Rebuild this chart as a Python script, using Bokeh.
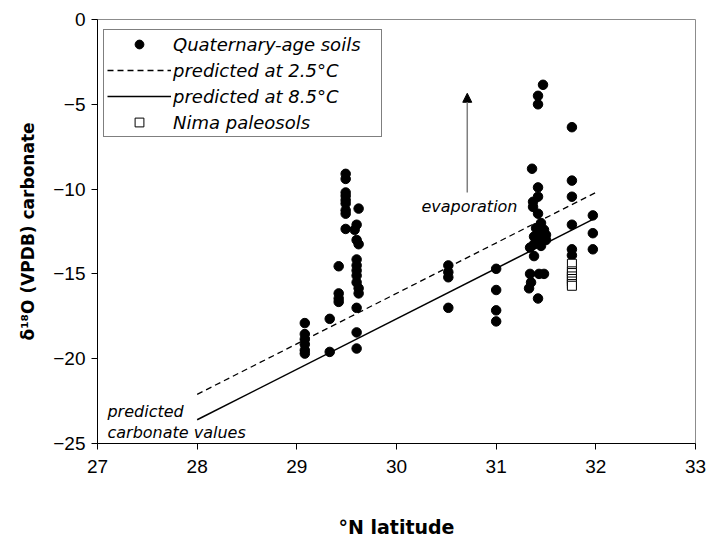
from bokeh.plotting import figure
from bokeh.models import (Range1d, FixedTicker, Legend, LegendItem, Label, Arrow,
                          NormalHead)
from bokeh.embed import file_html
from bokeh.resources import INLINE

# Quaternary-age soils: latitude (°N) and δ18O carbonate
soil_lat = [29.08, 29.08, 29.08, 29.08, 29.08, 29.08,
            29.33, 29.33,
            29.42, 29.42, 29.42, 29.42,
            29.49, 29.49, 29.49, 29.49, 29.49, 29.49, 29.49, 29.49, 29.49,
            29.62, 29.6, 29.58, 29.6, 29.62, 29.6, 29.6, 29.6, 29.6, 29.6, 29.62, 29.62, 29.6, 29.6, 29.6,
            30.52, 30.52, 30.52, 30.52,
            31.0, 31.0, 31.0, 31.0,
            31.47, 31.42, 31.42, 31.36, 31.42, 31.42, 31.37, 31.37, 31.42, 31.45, 31.4, 31.48,
            31.42, 31.5, 31.38, 31.45, 31.5, 31.38, 31.45, 31.34, 31.38, 31.34, 31.43, 31.48,
            31.35, 31.33, 31.42,
            31.76, 31.76, 31.76, 31.76, 31.76, 31.76,
            31.97, 31.97, 31.97]
soil_d18o = [-17.9, -18.55, -18.85, -19.15, -19.5, -19.7,
             -17.65, -19.6,
             -14.55, -16.15, -16.45, -16.65,
             -9.1, -9.4, -10.2, -10.4, -10.65, -10.85, -11.25, -11.45, -12.35,
             -11.15, -12.1, -12.4, -13.0, -13.25, -14.15, -14.5, -14.8, -15.1, -15.5, -15.85, -16.15, -17.0, -18.45, -19.4,
             -14.5, -14.9, -15.2, -17.0,
             -14.7, -15.95, -17.15, -17.8,
             -3.85, -4.5, -5.0, -8.8, -9.9, -10.45, -10.75, -11.05, -11.45, -12.0, -12.3, -12.4,
             -12.6, -12.7, -12.8, -12.9, -13.0, -13.25, -13.35, -13.45, -13.95, -15.0, -15.0, -15.0,
             -15.5, -15.85, -16.45,
             -6.35, -9.5, -10.45, -12.1, -13.55, -13.9,
             -11.55, -12.6, -13.55]

# Nima paleosols
nima_lat = [31.76, 31.76, 31.76, 31.76, 31.76, 31.76, 31.76, 31.76]
nima_d18o = [-14.4, -14.85, -14.95, -15.15, -15.3, -15.45, -15.6, -15.7]

# Predicted carbonate values (end points)
pred_lat = [28.0, 32.0]
pred_25C = [-22.1, -10.2]
pred_85C = [-23.6, -11.7]

x_ticks = [27, 28, 29, 30, 31, 32, 33]
y_ticks = [-25, -20, -15, -10, -5, 0]

FONT = "DejaVu Sans"
TICKFONT = "Liberation Sans"

p = figure(width=709, height=544, output_backend="svg", toolbar_location=None,
           x_range=Range1d(27, 33), y_range=Range1d(-25, 0),
           min_border_left=97, min_border_right=14, min_border_top=19,
           min_border_bottom=101, background_fill_color="white",
           border_fill_color="white")
p.outline_line_color = "#8c8c8c"
p.outline_line_width = 1
p.xgrid.visible = False
p.ygrid.visible = False

for ax, ticks in ((p.xaxis[0], x_ticks), (p.yaxis[0], y_ticks)):
    ax.ticker = FixedTicker(ticks=ticks)
    ax.axis_line_color = "black"
    ax.axis_line_width = 1
    ax.major_tick_line_color = "black"
    ax.major_tick_out = 6
    ax.major_tick_in = 0
    ax.minor_tick_line_color = None
    ax.major_label_text_font = TICKFONT
    ax.major_label_text_font_size = "19px"
    ax.major_label_text_color = "black"
    ax.axis_label_text_font = FONT
    ax.axis_label_text_font_style = "bold"
    ax.axis_label_text_color = "black"

p.xaxis.axis_label = "°N latitude"
p.xaxis.axis_label_text_font_size = "19px"
p.xaxis.major_label_standoff = 10
p.xaxis.axis_label_standoff = 40
p.yaxis.axis_label = "δ¹⁸O (VPDB) carbonate"
p.yaxis.axis_label_text_font_size = "17px"
p.yaxis.major_label_standoff = 6
p.yaxis.axis_label_standoff = 12

r_dash = p.line(pred_lat, pred_25C, line_color="black", line_width=1.3, line_dash="6 4")
r_solid = p.line(pred_lat, pred_85C, line_color="black", line_width=1.5)
r_soil = p.scatter(soil_lat, soil_d18o, marker="circle", size=9.5,
                   fill_color="black", line_color="black")
r_nima = p.scatter(nima_lat, nima_d18o, marker="square", size=9,
                   fill_color="white", line_color="black", line_width=1)

p.add_layout(Arrow(end=NormalHead(size=9, fill_color="black", line_color="black"),
                   x_start=30.71, y_start=-10.2, x_end=30.71, y_end=-4.35,
                   line_color="#7f7f7f", line_width=1.5))

lab_kw = dict(text_font=FONT, text_font_style="italic", text_font_size="16px",
              text_color="black")
p.add_layout(Label(x=30.25, y=-11.0, text="evaporation", text_baseline="middle", **lab_kw))
p.add_layout(Label(x=27.1, y=-23.1, text="predicted", text_baseline="middle", **lab_kw))
p.add_layout(Label(x=27.1, y=-24.35, text="carbonate values", text_baseline="middle", **lab_kw))

legend = Legend(items=[
    LegendItem(label="Quaternary-age soils", renderers=[r_soil]),
    LegendItem(label="predicted at 2.5°C", renderers=[r_dash]),
    LegendItem(label="predicted at 8.5°C", renderers=[r_solid]),
    LegendItem(label="Nima paleosols", renderers=[r_nima]),
], location=(6, 306))
legend.border_line_color = "black"
legend.border_line_width = 1
legend.background_fill_color = "white"
legend.background_fill_alpha = 1
legend.label_text_font = FONT
legend.label_text_font_style = "italic"
legend.label_text_font_size = "18px"
legend.label_text_color = "black"
legend.glyph_width = 64
legend.glyph_height = 22
legend.label_height = 22
legend.label_width = 205
legend.spacing = 4
legend.padding = 3
legend.label_standoff = 2
legend.margin = 0
p.add_layout(legend)

open("out.html", "w").write(file_html(p, INLINE))
